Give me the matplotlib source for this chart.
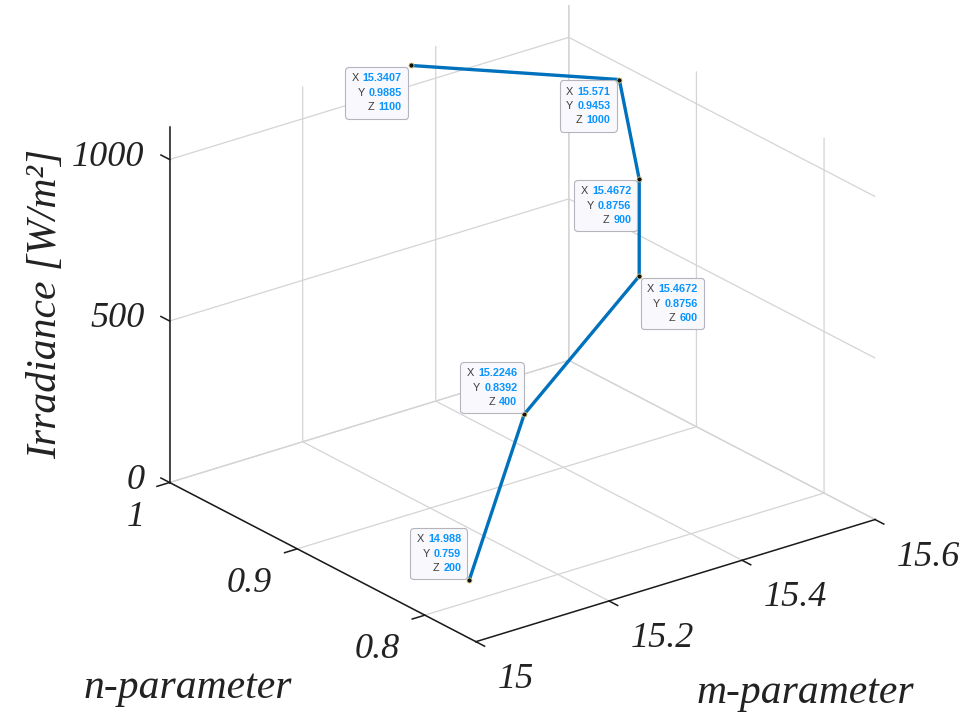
import numpy as np
import matplotlib
matplotlib.use('Agg')
import matplotlib.pyplot as plt
from mpl_toolkits.mplot3d import proj3d
from matplotlib.offsetbox import TextArea, HPacker, VPacker, AnnotationBbox

m_param = [14.988, 15.2246, 15.4672, 15.4672, 15.571, 15.3407]
n_param = [0.759, 0.8392, 0.8756, 0.8756, 0.9453, 0.9885]
irradiance = [200, 400, 600, 900, 1000, 1100]

x_ticks = [15, 15.2, 15.4, 15.6]
y_ticks = [0.8, 0.9, 1]
z_ticks = [0, 500, 1000]
x_tick_labels = ['15', '15.2', '15.4', '15.6']
y_tick_labels = ['0.8', '0.9', '1']
z_tick_labels = ['0', '500', '1000']
x_lim = (15, 15.6)
y_lim = (0.76, 1.0)
z_lim = (0, 1100)

x_label = 'm-parameter'
y_label = 'n-parameter'
z_label = 'Irradiance [W/m²]'

# ---- styling ----
W_PX, H_PX = 970, 720
SERIF = 'Liberation Serif'
LINE_C = '#0072BD'
GRID_C = '#d4d4d4'
TXT_C = '#222222'

fig = plt.figure(figsize=(W_PX / 100, H_PX / 100), dpi=100)
ax = fig.add_subplot(projection='3d', proj_type='ortho')
ax.set_position([0, 0, 1, 1])
ax.set_box_aspect((1, 1, 0.77))
ax.view_init(elev=23.5, azim=-127.5)

ax.set_xlim(*x_lim)
ax.set_ylim(*y_lim)
ax.set_zlim(*z_lim)
ax.set_xticks(x_ticks)
ax.set_yticks(y_ticks)
ax.set_zticks(z_ticks)
ax.set_xticklabels([])
ax.set_yticklabels([])
ax.set_zticklabels([])

for axis in (ax.xaxis, ax.yaxis, ax.zaxis):
    axis.set_pane_color((1, 1, 1, 0))
    axis.pane.set_edgecolor('none')
    axis._axinfo['grid'].update(color=GRID_C, linewidth=0.9)
    axis._axinfo['tick'].update(inward_factor=0.0, outward_factor=0.0)
    axis._axinfo['axisline']['color'] = 'k'
    axis.line.set_color('#1a1a1a')
    axis.line.set_linewidth(1.1)

ax.plot(m_param, n_param, irradiance, color=LINE_C, lw=2.4, solid_capstyle='round', zorder=5)
ax.plot(m_param, n_param, irradiance, linestyle='none', marker='o', ms=3.6,
        mfc='#111111', mec='#d9c46a', mew=0.6, zorder=6)

# ---- outward tick marks ----
dx_tick = 0.019 * (x_lim[1] - x_lim[0]) / 0.6
dy_tick = 0.0068
for xt in x_ticks:
    ax.plot([xt, xt], [y_lim[0], y_lim[0] - dy_tick], [z_lim[0], z_lim[0]], color='#1a1a1a', lw=1.1)
for yt in y_ticks:
    ax.plot([x_lim[0], x_lim[0] - dx_tick], [yt, yt], [z_lim[0], z_lim[0]], color='#1a1a1a', lw=1.1)
for zt in z_ticks:
    ax.plot([x_lim[0], x_lim[0]], [y_lim[1], y_lim[1] + dy_tick], [zt, zt], color='#1a1a1a', lw=1.1)

# ---- fit the projected box onto the reference layout ----
corners = [((x_lim[0], y_lim[1], z_lim[0]), (168, 481)),
           ((x_lim[0], y_lim[0], z_lim[0]), (477, 639)),
           ((x_lim[1], y_lim[0], z_lim[0]), (879, 519)),
           ((x_lim[0], y_lim[1], z_lim[1]), (168, 130)),
           ((x_lim[1], y_lim[1], z_lim[1]), (567, 7))]


def project(pts):
    M = ax.get_proj()
    out = []
    for (x, y, z) in pts:
        xs, ys, _ = proj3d.proj_transform(x, y, z, M)
        out.append(ax.transData.transform((xs, ys)))
    return np.array(out)


for _ in range(3):
    fig.canvas.draw()
    P = project([c[0] for c in corners])
    T = np.array([(c[1][0], H_PX - c[1][1]) for c in corners], dtype=float)
    Pm, Tm = P.mean(axis=0), T.mean(axis=0)
    s = np.sum((P - Pm) * (T - Tm)) / np.sum((P - Pm) ** 2)
    t = Tm - s * Pm
    bb = ax.get_position()
    x0, y0 = bb.x0 * W_PX, bb.y0 * H_PX
    w, h = bb.width * W_PX, bb.height * H_PX
    ax.set_position([(s * x0 + t[0]) / W_PX, (s * y0 + t[1]) / H_PX,
                     s * w / W_PX, s * h / H_PX])

fig.canvas.draw()


def fig_text_at(px, label, dx, dy, ha):
    # px: display pixel position (origin bottom-left); dx, dy: image-pixel offsets (y down)
    fig.text((px[0] + dx) / W_PX, (px[1] - dy) / H_PX, label, family=SERIF,
             style='italic', size=26, color=TXT_C, ha=ha, va='baseline')


# ---- tick labels ----
Px = project([(xt, y_lim[0], z_lim[0]) for xt in x_ticks])
for p, lab in zip(Px, x_tick_labels):
    fig_text_at(p, lab, 22, 46, 'left')
Py = project([(x_lim[0], yt, z_lim[0]) for yt in y_ticks])
for p, lab in zip(Py, y_tick_labels):
    fig_text_at(p, lab, -25, 43, 'right')
Pz = project([(x_lim[0], y_lim[1], zt) for zt in z_ticks])
for p, lab in zip(Pz, z_tick_labels):
    fig_text_at(p, lab, -25, 6, 'right')

# ---- axis titles ----
fig.text(188 / W_PX, 1 - 688 / H_PX, y_label, family=SERIF, style='italic', size=30,
         ha='center', va='center', color=TXT_C)
fig.text(805 / W_PX, 1 - 693 / H_PX, x_label, family=SERIF, style='italic', size=30,
         ha='center', va='center', color=TXT_C)
fig.text(46 / W_PX, 1 - 304 / H_PX, z_label, family=SERIF, style='italic', size=30,
         ha='center', va='center', rotation=90, color=TXT_C)

# ---- data tips ----
tip_offsets = [(-8, 7, (1, 0)),    # 200
               (-7, 7, (1, 0)),    # 400
               (8, -8, (0, 1)),    # 600
               (-8, -7, (1, 1)),   # 900
               (-9, -7, (1, 1)),   # 1000
               (-9, -8, (1, 1))]   # 1100

P = project(list(zip(m_param, n_param, irradiance)))
for i, (xv, yv, zv) in enumerate(zip(m_param, n_param, irradiance)):
    rows = []
    for lab, val in (('X', xv), ('Y', yv), ('Z', zv)):
        a = TextArea(lab, textprops=dict(color='#3c3c3c', size=7.8, family='Liberation Sans'))
        b = TextArea(f'{val:.6g}', textprops=dict(color='#0A94FF', size=7.8,
                                                   family='Liberation Sans', weight='bold'))
        rows.append(HPacker(children=[a, b], sep=3, pad=0, align='baseline'))
    vp = VPacker(children=rows, sep=3.2, pad=0, align='right')
    dx, dy, al = tip_offsets[i]
    ab = AnnotationBbox(vp, tuple(P[i]), xycoords='figure pixels',
                        xybox=(dx, dy), boxcoords='offset pixels', box_alignment=al,
                        frameon=True, pad=0.45, annotation_clip=False,
                        bboxprops=dict(boxstyle='round,pad=0.45,rounding_size=0.25',
                                       fc='#f9f9fd', ec='#b4b4bc', lw=0.8))
    ab.set_zorder(10)
    fig.add_artist(ab)

fig.savefig('out.png', dpi=100)
